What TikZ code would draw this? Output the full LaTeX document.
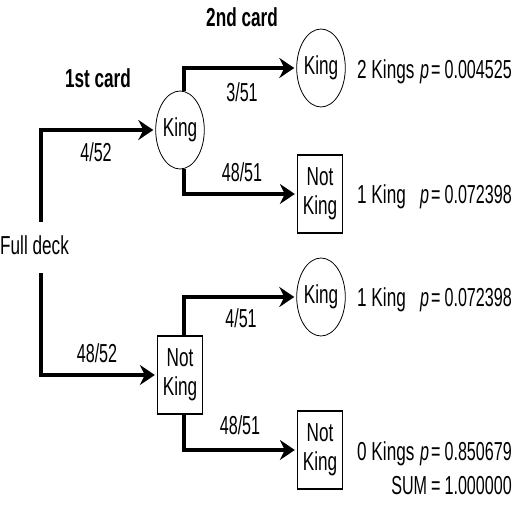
\documentclass[tikz,border=0pt]{standalone}
\usepackage{fontspec}
\setmainfont{Liberation Sans}[FakeStretch=0.66]
\newfontfamily\numfont{Liberation Sans}[FakeStretch=0.62]
\usetikzlibrary{arrows.meta,shapes.geometric}
\newcommand\peq{\textit{p}\hspace{2pt}=\hspace{4pt}}
\tikzset{
  txt/.style={font=\fontsize{26}{29}\selectfont, inner sep=0pt, text height=18.6pt, text depth=0pt},
  num/.style={txt, font=\numfont\fontsize{26}{29}\selectfont},
  card/.style={txt, font=\bfseries\fontsize{26}{29}\selectfont},
  kingnode/.style={draw, ellipse, line width=0.8pt, minimum width=44pt, minimum height=78pt, inner sep=0pt, font=\fontsize{26}{29}\selectfont},
  notnode/.style={draw, rectangle, line width=1.3pt, minimum width=45pt, minimum height=78pt, inner sep=0pt, align=center, font=\fontsize{26}{29}\selectfont},
  branch/.style={line width=4.3pt, -{Stealth[length=15pt,width=20pt,inset=5pt]}, shorten >=2pt}
}
\begin{document}
\begin{tikzpicture}[x=1pt,y=1pt]
                    \useasboundingbox (0,0) rectangle (512,512);

                    \coordinate (D0) at (41, 290);
                    \coordinate (D1) at (41, 239);

                    \node[txt, anchor=west] (deck) at (0, 267) {Full deck};

                    \node[kingnode] (K1) at (180, 382) {King};
                    \node[notnode]  (N1) at (180, 137) {Not\\King};

                    \node[kingnode] (K2) at (321, 444) {King};
                    \node[notnode]  (N2) at (320, 318) {Not\\King};
                    \node[kingnode] (K3) at (321, 215) {King};
                    \node[notnode]  (N3) at (320, 62) {Not\\King};

                    \draw[branch] (D0) |- (K1.west);
                    \draw[branch] (D1) |- (N1.west);

                    \draw[branch] ([xshift=4pt]K1.north) |- (K2.west);
                    \draw[branch] ([xshift=4pt]K1.south) |- (N2.west);
                    \draw[branch] ([xshift=4pt]N1.north) |- (K3.west);
                    \draw[branch] ([xshift=4pt]N1.south) |- (N3.west);

                    \node[card] (first) at (98, 434) {1st card};
                    \node[card] (second) at (242, 495) {2nd card};

                    \node[num] (p1) at (96, 360) {4/52};
                    \node[num] (p2) at (97, 159) {48/52};
                    \node[num] (p3) at (242, 420) {3/51};
                    \node[num] (p4) at (242, 340) {48/51};
                    \node[num] (p5) at (241, 194) {4/51};
                    \node[num] (p6) at (240, 87) {48/51};

                    \node[txt, anchor=west] (O1) at (357, 443) {2 Kings};
                    \node[txt, anchor=west] (O2) at (357, 318) {1 King};
                    \node[txt, anchor=west] (O3) at (357, 215) {1 King};
                    \node[txt, anchor=west] (O4) at (357, 61) {0 Kings};

                    \node[num, anchor=east] (R1) at (512, 443) {\peq 0.004525};
                    \node[num, anchor=east] (R2) at (512, 318) {\peq 0.072398};
                    \node[num, anchor=east] (R3) at (512, 215) {\peq 0.072398};
                    \node[num, anchor=east] (R4) at (512, 61) {\peq 0.850679};

                    \node[num, anchor=east] (sum) at (512, 27) {SUM\hspace{4pt}=\hspace{4pt}1.000000};

                \end{tikzpicture}
\end{document}
